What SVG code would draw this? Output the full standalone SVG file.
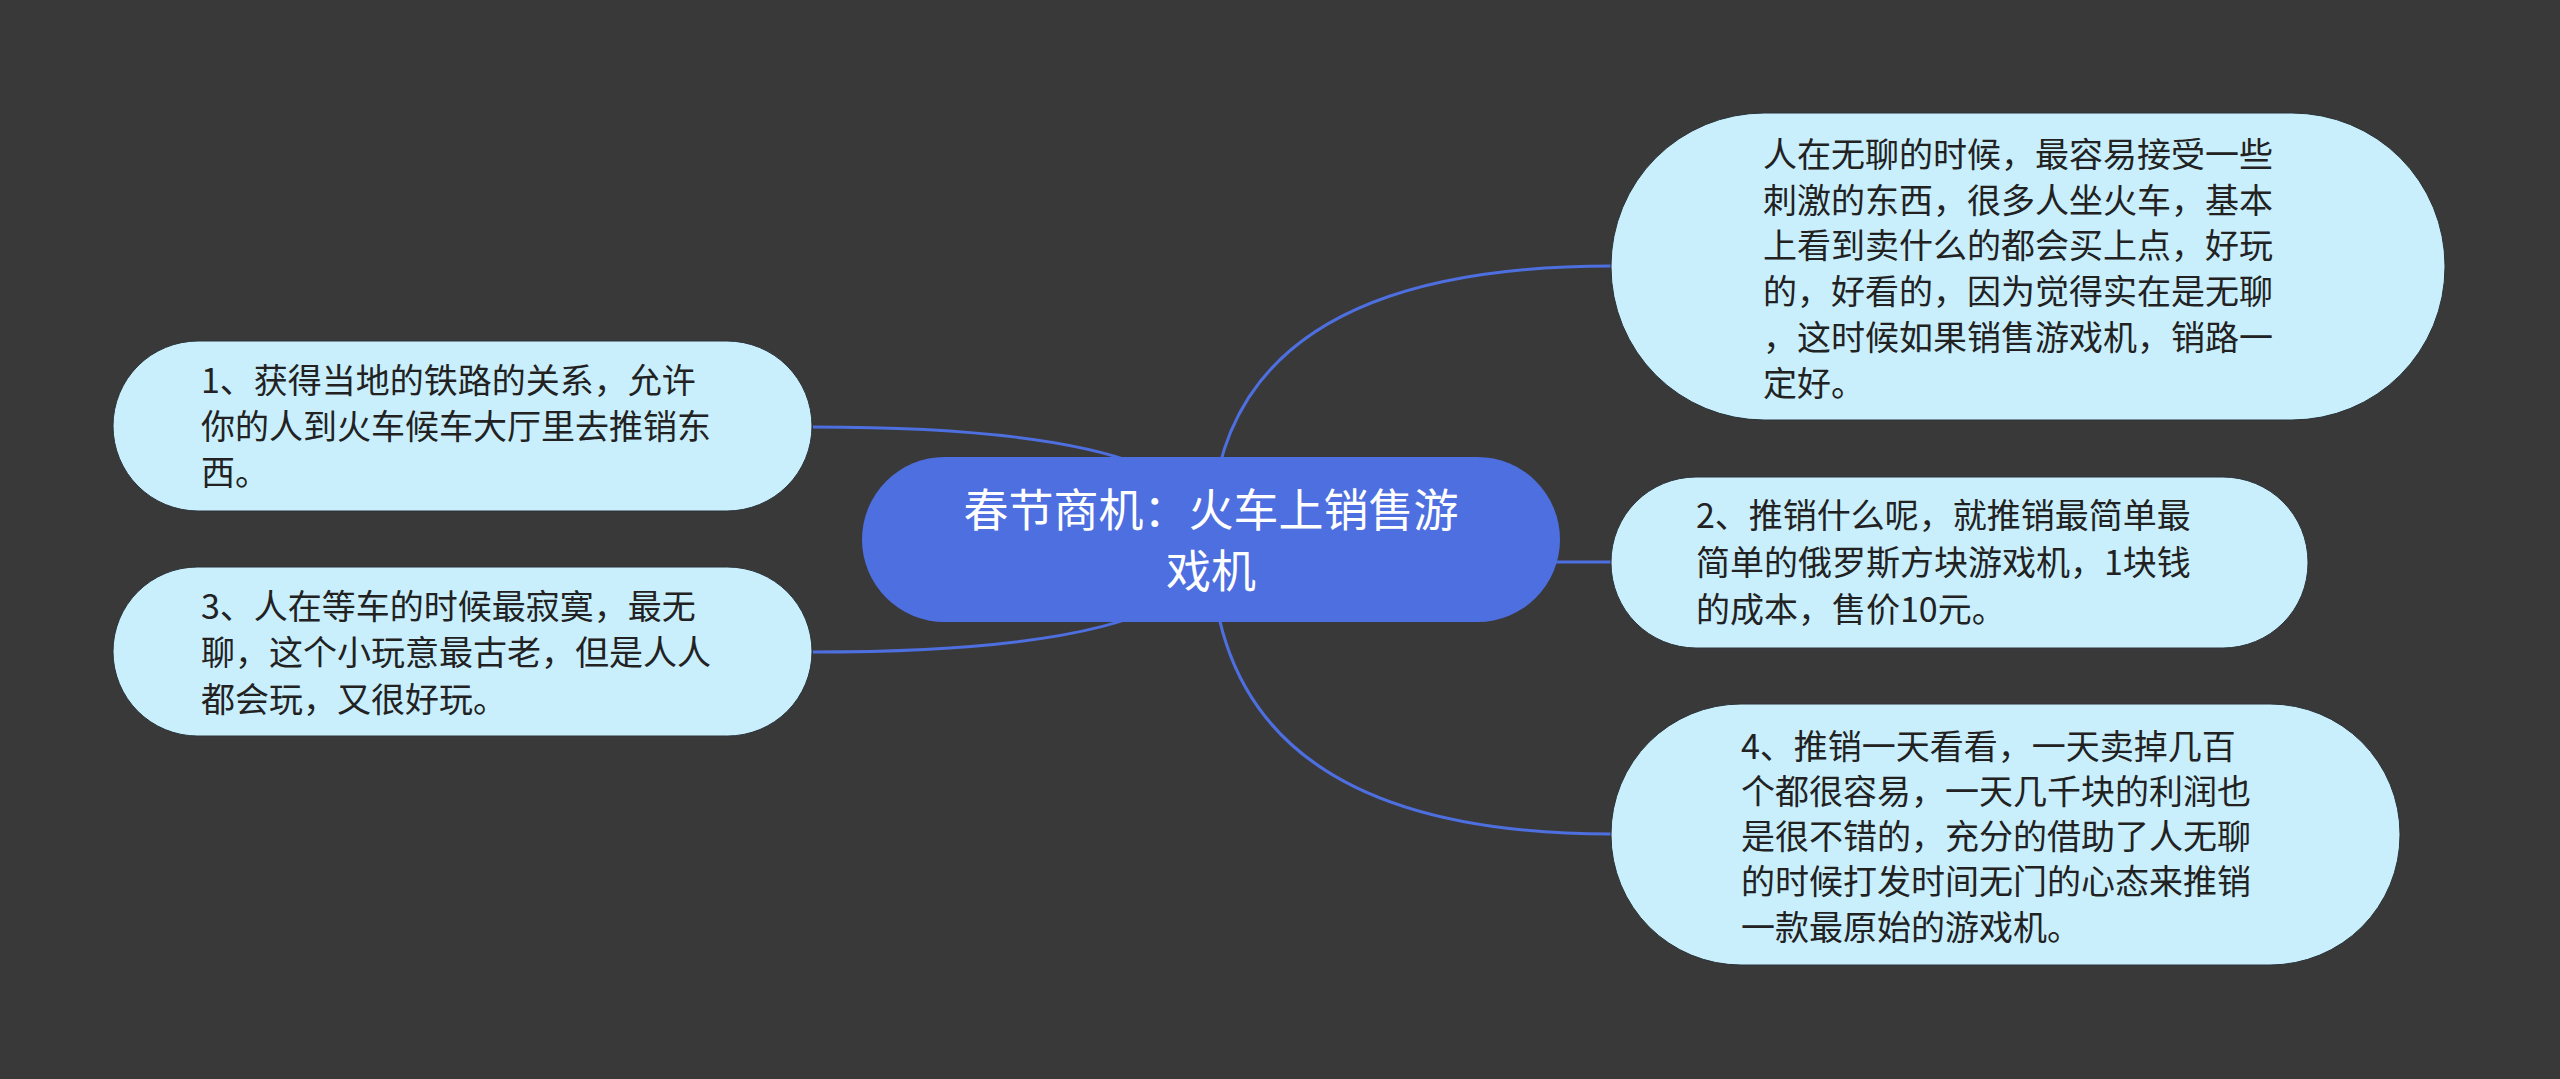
<svg xmlns="http://www.w3.org/2000/svg" width="2560" height="1079" viewBox="0 0 2560 1079">
<style>
.bg{fill:#3a393a}
.edge{fill:none;stroke:#4d6fe0;stroke-width:3}
.root{fill:#4d6fe0}
.leaf{fill:#c9effd;stroke:#2a3338;stroke-width:1}
.rt{font-family:"Noto Sans CJK SC","Noto Sans",sans-serif;font-size:45px;fill:#ffffff}
.lt{font-family:"Noto Sans CJK SC","Noto Sans",sans-serif;font-size:34px;fill:#222222}
</style>
<rect class="bg" x="0" y="0" width="2560" height="1079"/>
<g id="connectors">
<path class="edge" d="M1211 540 Q1211 266 1611 266"/>
<path class="edge" d="M1211 540 Q1211 562 1611 562"/>
<path class="edge" d="M1211 540 Q1211 834 1611 834"/>
<path class="edge" d="M1211 540 Q1211 427 813 427"/>
<path class="edge" d="M1211 540 Q1211 652 813 652"/>
</g>
<g id="root">
<rect class="root" x="862" y="457" width="698" height="165" rx="82.5"/>
<text class="rt" x="1211" y="527" text-anchor="middle">春节商机：火车上销售游</text>
<text class="rt" x="1211" y="588" text-anchor="middle">戏机</text>
</g>
<g id="node-tr">
<rect class="leaf" x="1611" y="113" width="834" height="307" rx="153"/>
<text class="lt" x="1763"><tspan x="1763" y="167">人在无聊的时候，最容易接受一些</tspan><tspan x="1763" y="213">刺激的东西，很多人坐火车，基本</tspan><tspan x="1763" y="258">上看到卖什么的都会买上点，好玩</tspan><tspan x="1763" y="304">的，好看的，因为觉得实在是无聊</tspan><tspan x="1763" y="350">，这时候如果销售游戏机，销路一</tspan><tspan x="1763" y="396">定好。</tspan></text>
</g>
<g id="node-2">
<rect class="leaf" x="1611" y="477" width="697" height="171" rx="85"/>
<text class="lt"><tspan x="1696" y="528">2、推销什么呢，就推销最简单最</tspan><tspan x="1696" y="575">简单的俄罗斯方块游戏机，1块钱</tspan><tspan x="1696" y="622">的成本，售价10元。</tspan></text>
</g>
<g id="node-4">
<rect class="leaf" x="1611" y="704" width="789" height="261" rx="130"/>
<text class="lt"><tspan x="1741" y="759">4、推销一天看看，一天卖掉几百</tspan><tspan x="1741" y="804">个都很容易，一天几千块的利润也</tspan><tspan x="1741" y="849">是很不错的，充分的借助了人无聊</tspan><tspan x="1741" y="894">的时候打发时间无门的心态来推销</tspan><tspan x="1741" y="940">一款最原始的游戏机。</tspan></text>
</g>
<g id="node-1">
<rect class="leaf" x="113" y="341" width="699" height="170" rx="85"/>
<text class="lt"><tspan x="201" y="393">1、获得当地的铁路的关系，允许</tspan><tspan x="201" y="439">你的人到火车候车大厅里去推销东</tspan><tspan x="201" y="485">西。</tspan></text>
</g>
<g id="node-3">
<rect class="leaf" x="113" y="567" width="699" height="169" rx="84.5"/>
<text class="lt"><tspan x="201" y="619">3、人在等车的时候最寂寞，最无</tspan><tspan x="201" y="665">聊，这个小玩意最古老，但是人人</tspan><tspan x="201" y="712">都会玩，又很好玩。</tspan></text>
</g>
</svg>
